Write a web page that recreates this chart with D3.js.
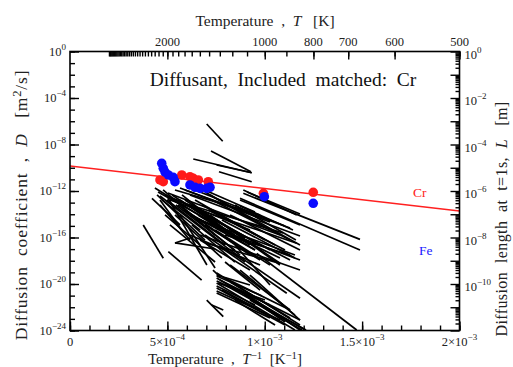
<!DOCTYPE html>
<html>
<head>
<meta charset="utf-8">
<script src="https://cdn.jsdelivr.net/npm/d3@7"></script>
<style>
body { margin: 0; background: #fff; }
svg { display: block; font-family: "Liberation Serif", "Times New Roman", serif; }
</style>
</head>
<body>
<svg id="chart" width="513" height="367"></svg>
<script>
// x: 1/T in 1e-3 K^-1, y: log10(D / m^2 s^-1)
const crPoints = [
  [0.462, -11.05], [0.479, -11.20], [0.574, -10.62], [0.616, -10.77], [0.633, -10.91],
  [0.659, -11.05], [0.710, -11.20], [0.993, -12.20], [1.249, -12.11]
];
const fePoints = [
  [0.471, -9.62], [0.479, -10.05], [0.488, -10.37], [0.505, -10.62], [0.530, -10.82],
  [0.539, -11.20], [0.616, -11.48], [0.642, -11.68], [0.668, -11.77], [0.702, -11.77],
  [0.719, -11.68], [0.998, -12.49], [1.249, -13.06]
];
// fitted Arrhenius line for Cr, [1/T, log10 D] at both ends
const crFit = [[0, -9.85], [2.0, -13.72]];

// other matched datasets, [1/T start, log10 D start, 1/T end, log10 D end]
const otherLines = [
  [0.702, -6.24, 0.784, -7.72], [0.724, -8.56, 0.929, -10.34], [0.633, -9.25, 0.933, -10.43],
  [0.753, -9.76, 0.933, -10.43], [0.765, -10.34, 0.933, -11.20],
  [0.890, -11.91, 1.164, -14.06], [0.890, -12.20, 1.489, -16.16], [0.873, -12.63, 1.489, -17.08],
  [0.909, -12.09, 1.181, -13.98], [0.873, -12.77, 1.181, -14.92], [0.873, -13.29, 1.145, -15.36],
  [0.847, -13.20, 1.160, -16.22],
  [0.436, -11.74, 0.745, -14.92], [0.452, -12.09, 0.847, -15.79], [0.462, -12.43, 0.822, -17.08],
  [0.472, -12.77, 0.668, -15.36], [0.488, -12.34, 0.924, -15.36], [0.503, -12.17, 1.078, -15.79],
  [0.513, -12.77, 1.164, -16.50], [0.529, -12.77, 1.094, -15.61], [0.539, -11.91, 0.976, -14.06],
  [0.565, -11.74, 1.027, -14.67], [0.590, -11.91, 1.130, -15.18], [0.616, -12.34, 1.181, -15.87],
  [0.642, -11.91, 1.104, -15.01], [0.668, -11.74, 0.950, -13.81], [0.693, -12.09, 1.181, -16.65],
  [0.719, -12.34, 1.027, -15.36], [0.555, -13.20, 0.924, -17.51], [0.580, -13.63, 0.950, -17.08],
  [0.601, -13.20, 1.027, -17.08], [0.616, -14.06, 1.078, -17.76], [0.642, -13.63, 1.130, -17.94],
  [0.668, -14.49, 1.155, -17.51], [0.693, -14.92, 0.976, -17.94], [0.719, -14.06, 1.078, -18.37],
  [0.753, -14.49, 1.078, -18.22], [0.770, -15.36, 1.181, -17.94], [0.796, -15.79, 1.130, -17.51],
  [0.462, -13.20, 0.616, -16.22], [0.488, -14.06, 0.668, -16.65], [0.421, -12.63, 0.565, -14.92],
  [0.513, -14.92, 0.745, -18.11], [0.503, -12.60, 0.703, -18.37], [0.565, -14.06, 0.745, -18.62],
  [0.447, -12.34, 0.693, -16.22], [0.478, -11.91, 0.745, -15.79], [0.498, -12.77, 0.796, -16.65],
  [0.524, -12.34, 0.873, -16.22], [0.544, -13.20, 0.847, -17.08], [0.565, -12.77, 0.924, -16.65],
  [0.590, -12.77, 0.899, -16.04], [0.616, -13.20, 0.976, -16.65], [0.642, -12.77, 1.001, -16.22],
  [0.575, -12.34, 0.811, -15.53], [0.606, -13.81, 0.873, -17.51], [0.657, -14.06, 0.950, -17.08],
  [0.678, -13.20, 1.053, -16.65], [0.709, -13.63, 1.104, -17.08], [0.729, -12.77, 1.130, -16.22],
  [0.539, -14.06, 0.780, -17.76], [0.626, -14.92, 0.847, -18.11], [0.745, -15.36, 1.027, -18.37],
  [0.693, -15.79, 0.899, -18.11], [0.780, -14.49, 1.155, -17.76], [0.822, -14.06, 1.181, -17.08],
  [0.462, -12.77, 0.575, -15.36],
  [0.376, -14.92, 0.479, -17.79], [0.505, -17.22, 0.676, -19.66],
  [0.539, -16.47, 0.632, -15.96], [0.539, -16.47, 0.745, -16.99],
  [0.616, -15.79, 0.976, -18.37], [0.668, -16.22, 0.924, -18.80],
  [0.702, -16.50, 1.078, -18.22], [0.668, -15.79, 1.181, -18.80],
  [0.702, -21.38, 0.787, -22.81], [0.728, -21.81, 0.787, -22.24],
  [0.770, -16.79, 1.113, -20.80], [0.822, -17.08, 1.181, -21.23], [0.959, -17.36, 1.472, -23.96],
  [0.847, -16.65, 1.027, -20.09], [0.734, -18.80, 0.770, -19.37],
  [0.753, -19.05, 1.181, -23.53], [0.753, -19.48, 1.207, -23.96], [0.753, -19.91, 1.155, -23.96],
  [0.753, -20.34, 1.104, -23.53], [0.753, -20.77, 1.027, -22.92], [0.770, -19.66, 1.181, -23.10],
  [0.796, -20.09, 1.212, -23.96], [0.822, -19.83, 1.130, -22.92], [0.780, -20.52, 0.976, -22.24],
  [0.873, -20.52, 1.181, -23.96], [0.924, -21.38, 1.191, -23.96], [0.899, -20.95, 1.104, -23.27],
  [0.847, -21.38, 1.053, -23.53], [0.753, -19.23, 0.924, -20.09], [0.760, -19.91, 1.001, -21.38],
  [0.822, -18.37, 1.130, -22.24], [0.873, -18.80, 1.155, -22.67], [0.796, -18.11, 0.976, -20.52],
  [0.924, -19.23, 1.181, -23.10],
  [0.753, -19.31, 0.986, -21.03], [0.753, -19.74, 1.027, -21.81], [0.753, -20.17, 0.950, -21.81],
  [0.753, -20.60, 1.078, -23.10], [0.796, -19.48, 1.130, -22.24]
];

const xMajor = [0, 0.5, 1.0, 1.5, 2.0];
const xMajorLabels = [["0", ""], ["5×10", "−4"], ["1×10", "−3"], ["1.5×10", "−3"], ["2×10", "−3"]];
const tempLabels = [2000, 1000, 800, 700, 600, 500];
const dLabels = [0, -4, -8, -12, -16, -20, -24];
const lLabels = [0, -2, -4, -6, -8, -10];

const pLeft = 70, pRight = 459.5, pTop = 51.5, pBottom = 330.5;
const x = d3.scaleLinear().domain([0, 2]).range([pLeft, pRight]);
const y = d3.scaleLinear().domain([0, -24]).range([pTop, pBottom]);

const svg = d3.select('#chart');

svg.append('defs').append('clipPath').attr('id', 'plotclip')
  .append('rect').attr('x', pLeft).attr('y', pTop)
  .attr('width', pRight - pLeft).attr('height', pBottom - pTop);

// superscript helper
function powText(sel, base, exp) {
  sel.append('tspan').text(base);
  if (exp) sel.append('tspan').attr('dy', -6).attr('font-size', '0.72em').text(exp);
}

const plot = svg.append('g').attr('clip-path', 'url(#plotclip)');

plot.selectAll('.other').data(otherLines).enter().append('line')
  .attr('class', 'other')
  .attr('x1', d => x(d[0])).attr('y1', d => y(d[1]))
  .attr('x2', d => x(d[2])).attr('y2', d => y(d[3]))
  .attr('stroke', '#000').attr('stroke-width', 1.7);

plot.append('line')
  .attr('x1', x(crFit[0][0])).attr('y1', y(crFit[0][1]))
  .attr('x2', x(crFit[1][0])).attr('y2', y(crFit[1][1]))
  .attr('stroke', '#ff2020').attr('stroke-width', 1.6);

plot.selectAll('.cr').data(crPoints).enter().append('circle')
  .attr('cx', d => x(d[0])).attr('cy', d => y(d[1])).attr('r', 4.8)
  .attr('fill', '#ff1a1a');

plot.selectAll('.fe').data(fePoints).enter().append('circle')
  .attr('cx', d => x(d[0])).attr('cy', d => y(d[1])).attr('r', 4.8)
  .attr('fill', '#0a0aff');

// ticks, all pointing inwards
function ticks(axis, tf, vals, size) {
  const g = svg.append('g').attr('transform', tf)
    .call(axis.tickValues(vals).tickSize(size).tickFormat(''));
  g.select('.domain').remove();
  g.selectAll('line').attr('stroke', '#000').attr('stroke-width', 1.4);
}
ticks(d3.axisTop(x), `translate(0,${pBottom})`, d3.range(0, 21).map(i => i / 10), 5);
ticks(d3.axisTop(x), `translate(0,${pBottom})`, xMajor, 9);
ticks(d3.axisRight(y), `translate(${pLeft},0)`, d3.range(0, -25, -1), 5);
ticks(d3.axisRight(y), `translate(${pLeft},0)`, dLabels, 9);

const tempTicks = d3.range(500, 5001, 100);
ticks(d3.axisBottom(x), `translate(0,${pTop})`, tempTicks.map(t => 1000 / t), 5);
ticks(d3.axisBottom(x), `translate(0,${pTop})`, tempLabels.map(t => 1000 / t), 8);

// right axis: diffusion length L = sqrt(D t), t = 1 s
const lMinor = [], lMajor = [];
for (let k = 0; k >= -12; k--) {
  lMajor.push(2 * k);
  for (let m = 2; m <= 9; m++) if (k < 0) lMinor.push(2 * (k + Math.log10(m)));
}
ticks(d3.axisLeft(y), `translate(${pRight},0)`, lMinor, 4);
ticks(d3.axisLeft(y), `translate(${pRight},0)`, lMajor, 9);

svg.append('rect').attr('x', pLeft).attr('y', pTop)
  .attr('width', pRight - pLeft).attr('height', pBottom - pTop)
  .attr('fill', 'none').attr('stroke', '#000').attr('stroke-width', 1.6);

// tick labels
xMajor.forEach((v, i) => {
  const t = svg.append('text').attr('x', x(v)).attr('y', pBottom + 15)
    .attr('text-anchor', 'middle').attr('font-size', 12.5).attr('fill', '#222');
  powText(t, xMajorLabels[i][0], xMajorLabels[i][1]);
});
tempLabels.forEach(v => {
  svg.append('text').attr('x', x(1000 / v)).attr('y', pTop - 6)
    .attr('text-anchor', 'middle').attr('font-size', 12.5).attr('fill', '#222').text(v);
});
dLabels.forEach(v => {
  const t = svg.append('text').attr('x', pLeft - 4).attr('y', y(v) + 4)
    .attr('text-anchor', 'end').attr('font-size', 12.5).attr('fill', '#222');
  powText(t, '10', v === 0 ? '0' : '−' + (-v));
});
lLabels.forEach(v => {
  const t = svg.append('text').attr('x', pRight + 5).attr('y', y(2 * v) + 7)
    .attr('font-size', 12.5).attr('fill', '#222');
  powText(t, '10', v === 0 ? '0' : '−' + (-v));
});

// axis titles
const tt = svg.append('text').attr('x', 265).attr('y', 26)
  .attr('text-anchor', 'middle').attr('font-size', 15.5).attr('fill', '#222').attr('xml:space', 'preserve');
tt.append('tspan').text('Temperature  ,  ');
tt.append('tspan').attr('font-style', 'italic').text('T');
tt.append('tspan').text('   [K]');

const bt = svg.append('text').attr('x', 225).attr('y', 364)
  .attr('text-anchor', 'middle').attr('font-size', 15).attr('fill', '#222').attr('xml:space', 'preserve');
bt.append('tspan').text('Temperature  ,  ');
bt.append('tspan').attr('font-style', 'italic').text('T');
bt.append('tspan').attr('dy', -5).attr('font-size', '0.72em').text('−1');
bt.append('tspan').attr('dy', 5).text('  [K');
bt.append('tspan').attr('dy', -5).attr('font-size', '0.72em').text('−1');
bt.append('tspan').attr('dy', 5).text(']');

const lt = svg.append('text').attr('transform', 'translate(27,205) rotate(-90)')
  .attr('text-anchor', 'middle').attr('font-size', 17.5).attr('letter-spacing', 0.8)
  .attr('fill', '#222').attr('xml:space', 'preserve');
lt.append('tspan').text('Diffusion  coefficient  ,  ');
lt.append('tspan').attr('font-style', 'italic').text('D');
lt.append('tspan').text('   [m');
lt.append('tspan').attr('dy', -6).attr('font-size', '0.72em').text('2');
lt.append('tspan').attr('dy', 6).text('/s]');

const rt = svg.append('text').attr('transform', 'translate(507,219) rotate(-90)')
  .attr('text-anchor', 'middle').attr('font-size', 16).attr('letter-spacing', 0.4)
  .attr('fill', '#222').attr('xml:space', 'preserve');
rt.append('tspan').text('Diffusion  length  at  t=1s,  ');
rt.append('tspan').attr('font-style', 'italic').text('L');
rt.append('tspan').text('   [m]');

svg.append('text').attr('x', 283).attr('y', 86).attr('text-anchor', 'middle')
  .attr('font-size', 19.5).attr('fill', '#111').attr('xml:space', 'preserve')
  .text('Diffusant,  Included  matched:  Cr');

svg.append('text').attr('x', 413).attr('y', 197).attr('font-size', 13.5)
  .attr('fill', '#ff2020').text('Cr');
svg.append('text').attr('x', 419).attr('y', 255).attr('font-size', 13.5)
  .attr('fill', '#1a1aff').text('Fe');
</script>
</body>
</html>
